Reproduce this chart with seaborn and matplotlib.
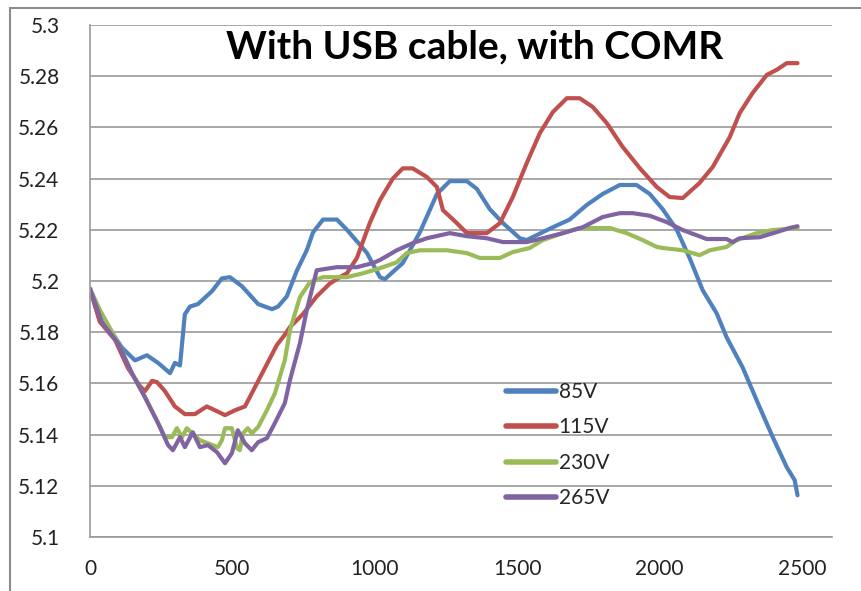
import pandas as pd
import matplotlib
matplotlib.use("Agg")
import matplotlib.pyplot as plt
import seaborn as sns
from matplotlib.patches import Rectangle

# values
series_names = ["85V", "115V", "230V", "265V"]
series_colors = ["#4F81BD", "#C0504D", "#9BBB59", "#8064A2"]

x_85 = [0, 35, 70, 112, 158, 200, 239, 281, 298, 316, 333, 351, 379, 428, 463, 491, 533,
        590, 639, 660, 691, 726, 761, 783, 818, 867, 902, 972, 1018, 1035, 1098, 1158,
        1218, 1263, 1323, 1358, 1404, 1450, 1509, 1533, 1625, 1684, 1744, 1800, 1860,
        1919, 1965, 2011, 2060, 2105, 2151, 2200, 2235, 2291, 2351, 2397, 2446, 2474, 2484]
y_85 = [5.197, 5.184, 5.181, 5.174, 5.169, 5.171, 5.168, 5.164, 5.168, 5.167, 5.187, 5.190,
        5.191, 5.196, 5.201, 5.2015, 5.198, 5.191, 5.189, 5.190, 5.194, 5.204, 5.212, 5.219,
        5.224, 5.224, 5.220, 5.211, 5.2015, 5.2007, 5.207, 5.219, 5.234, 5.239, 5.239, 5.236,
        5.228, 5.2226, 5.2167, 5.216, 5.221, 5.224, 5.2297, 5.234, 5.2375, 5.2375, 5.234,
        5.228, 5.220, 5.209, 5.1964, 5.1874, 5.178, 5.1663, 5.1507, 5.139, 5.1273, 5.1222,
        5.1163]

x_115 = [0, 35, 88, 133, 175, 193, 218, 235, 263, 298, 333, 368, 410, 439, 474, 509, 544,
         579, 614, 656, 684, 702, 747, 796, 842, 877, 902, 937, 982, 1018, 1063, 1098, 1133,
         1183, 1218, 1239, 1288, 1323, 1393, 1439, 1484, 1533, 1579, 1625, 1674, 1719, 1765,
         1814, 1870, 1930, 1990, 2035, 2081, 2140, 2186, 2246, 2281, 2326, 2376, 2411, 2446,
         2484]
y_115 = [5.197, 5.184, 5.177, 5.166, 5.159, 5.157, 5.161, 5.1605, 5.157, 5.151, 5.148, 5.148,
         5.151, 5.1495, 5.1476, 5.1495, 5.151, 5.1585, 5.166, 5.175, 5.179, 5.182, 5.187,
         5.194, 5.199, 5.2015, 5.203, 5.209, 5.2226, 5.2316, 5.240, 5.244, 5.244, 5.2406,
         5.2367, 5.2277, 5.2226, 5.2187, 5.2187, 5.2226, 5.2327, 5.246, 5.2577, 5.266, 5.2714,
         5.2714, 5.268, 5.2617, 5.2524, 5.2441, 5.2367, 5.2328, 5.2324, 5.2383, 5.2445,
         5.2562, 5.2656, 5.2734, 5.2805, 5.2825, 5.2851, 5.2851]

x_230 = [0, 35, 98, 147, 193, 239, 263, 288, 305, 323, 340, 358, 386, 414, 449, 463, 474,
         498, 516, 526, 537, 554, 568, 590, 621, 649, 684, 702, 737, 772, 818, 902, 958,
         1018, 1077, 1112, 1158, 1253, 1323, 1368, 1439, 1484, 1544, 1590, 1660, 1719, 1825,
         1884, 1940, 1990, 2011, 2081, 2140, 2176, 2235, 2270, 2341, 2397, 2484]
y_230 = [5.197, 5.1886, 5.176, 5.164, 5.1546, 5.1445, 5.139, 5.139, 5.1425, 5.139, 5.1425,
         5.1405, 5.1378, 5.1366, 5.1351, 5.1378, 5.1425, 5.1425, 5.1347, 5.1339, 5.1405,
         5.1425, 5.1405, 5.1429, 5.1495, 5.1561, 5.1691, 5.1808, 5.1937, 5.1995, 5.2015,
         5.2015, 5.203, 5.205, 5.2073, 5.2109, 5.212, 5.212, 5.2109, 5.209, 5.209, 5.2113,
         5.2129, 5.216, 5.2187, 5.2207, 5.2207, 5.2187, 5.216, 5.2133, 5.2129, 5.212, 5.2101,
         5.212, 5.2133, 5.216, 5.2187, 5.2199, 5.2207]

x_265 = [0, 42, 98, 147, 193, 239, 274, 291, 316, 333, 361, 386, 414, 446, 474, 498, 519,
         544, 568, 590, 621, 649, 684, 702, 737, 761, 796, 867, 937, 993, 1018, 1077, 1133,
         1183, 1263, 1323, 1393, 1450, 1533, 1590, 1660, 1730, 1800, 1860, 1905, 1965, 2025,
         2081, 2165, 2235, 2256, 2281, 2351, 2411, 2456, 2484]
y_265 = [5.197, 5.1839, 5.1757, 5.164, 5.1546, 5.1445, 5.1359, 5.1339, 5.139, 5.1351, 5.1409,
         5.1351, 5.1359, 5.1331, 5.1288, 5.1327, 5.1417, 5.1366, 5.1339, 5.137, 5.1386,
         5.1445, 5.1523, 5.1613, 5.1757, 5.1886, 5.2042, 5.2054, 5.2054, 5.207, 5.2082,
         5.212, 5.2148, 5.2167, 5.2187, 5.2175, 5.2167, 5.2152, 5.2152, 5.2167, 5.2187,
         5.221, 5.225, 5.2265, 5.2265, 5.2255, 5.223, 5.2199, 5.2164, 5.2164, 5.2152, 5.2167,
         5.2171, 5.2191, 5.2207, 5.2214]

x_ticks = [0, 500, 1000, 1500, 2000, 2500]
y_ticks = [5.1, 5.12, 5.14, 5.16, 5.18, 5.2, 5.22, 5.24, 5.26, 5.28, 5.3]

frames = []
for name, xs, ys in zip(series_names, [x_85, x_115, x_230, x_265], [y_85, y_115, y_230, y_265]):
    frames.append(pd.DataFrame({"x": xs, "v": ys, "series": name}))
df = pd.concat(frames, ignore_index=True)

sns.set_theme(style="white")
plt.rcParams["font.family"] = ["Lato", "DejaVu Sans"]

fig = plt.figure(figsize=(8.61, 5.91), dpi=100)
ax = fig.add_axes([90 / 861, 54 / 591, 742 / 861, 512 / 591])

sns.lineplot(data=df, x="x", y="v", hue="series", hue_order=series_names,
             palette=series_colors, estimator=None, sort=False, linewidth=3.0,
             solid_joinstyle="round", solid_capstyle="round", ax=ax)

ax.set_xlim(0, 2605)
ax.set_ylim(5.1, 5.3)
ax.set_xticks(x_ticks)
ax.set_yticks(y_ticks)
ax.set_yticklabels([f"{v:g}" for v in y_ticks])
ax.tick_params(axis="both", labelsize=15, length=0, colors="#222222")
ax.tick_params(axis="y", pad=22)
ax.tick_params(axis="x", pad=16)
ax.grid(axis="y", color="#9a9a9a", linewidth=1.2)
ax.set_axisbelow(True)
for side in ["top", "right"]:
    ax.spines[side].set_visible(False)
for side in ["left", "bottom"]:
    ax.spines[side].set_color("#9a9a9a")
    ax.spines[side].set_linewidth(1.2)
ax.set_xlabel("")
ax.set_ylabel("")

fig.text(475 / 861, (591 - 58) / 591, "With USB cable, with COMR", fontsize=28,
         fontweight="bold", ha="center", va="baseline", color="black")

leg = ax.legend(loc="upper left", bbox_to_anchor=(506 / 861, (591 - 382) / 591),
                bbox_transform=fig.transFigure, frameon=False, fontsize=15,
                handlelength=2.4, handletextpad=0.12, labelspacing=0.74,
                borderpad=0, borderaxespad=0)
for line in leg.get_lines():
    line.set_linewidth(4)
    line.set_solid_capstyle("round")

fig.patches.append(Rectangle((10 / 861, -0.02), 1.05, 1.0 - 8 / 591 + 0.02,
                             transform=fig.transFigure, fill=False,
                             edgecolor="#8c8c8c", linewidth=1.5))

fig.savefig("out.png", dpi=100)
